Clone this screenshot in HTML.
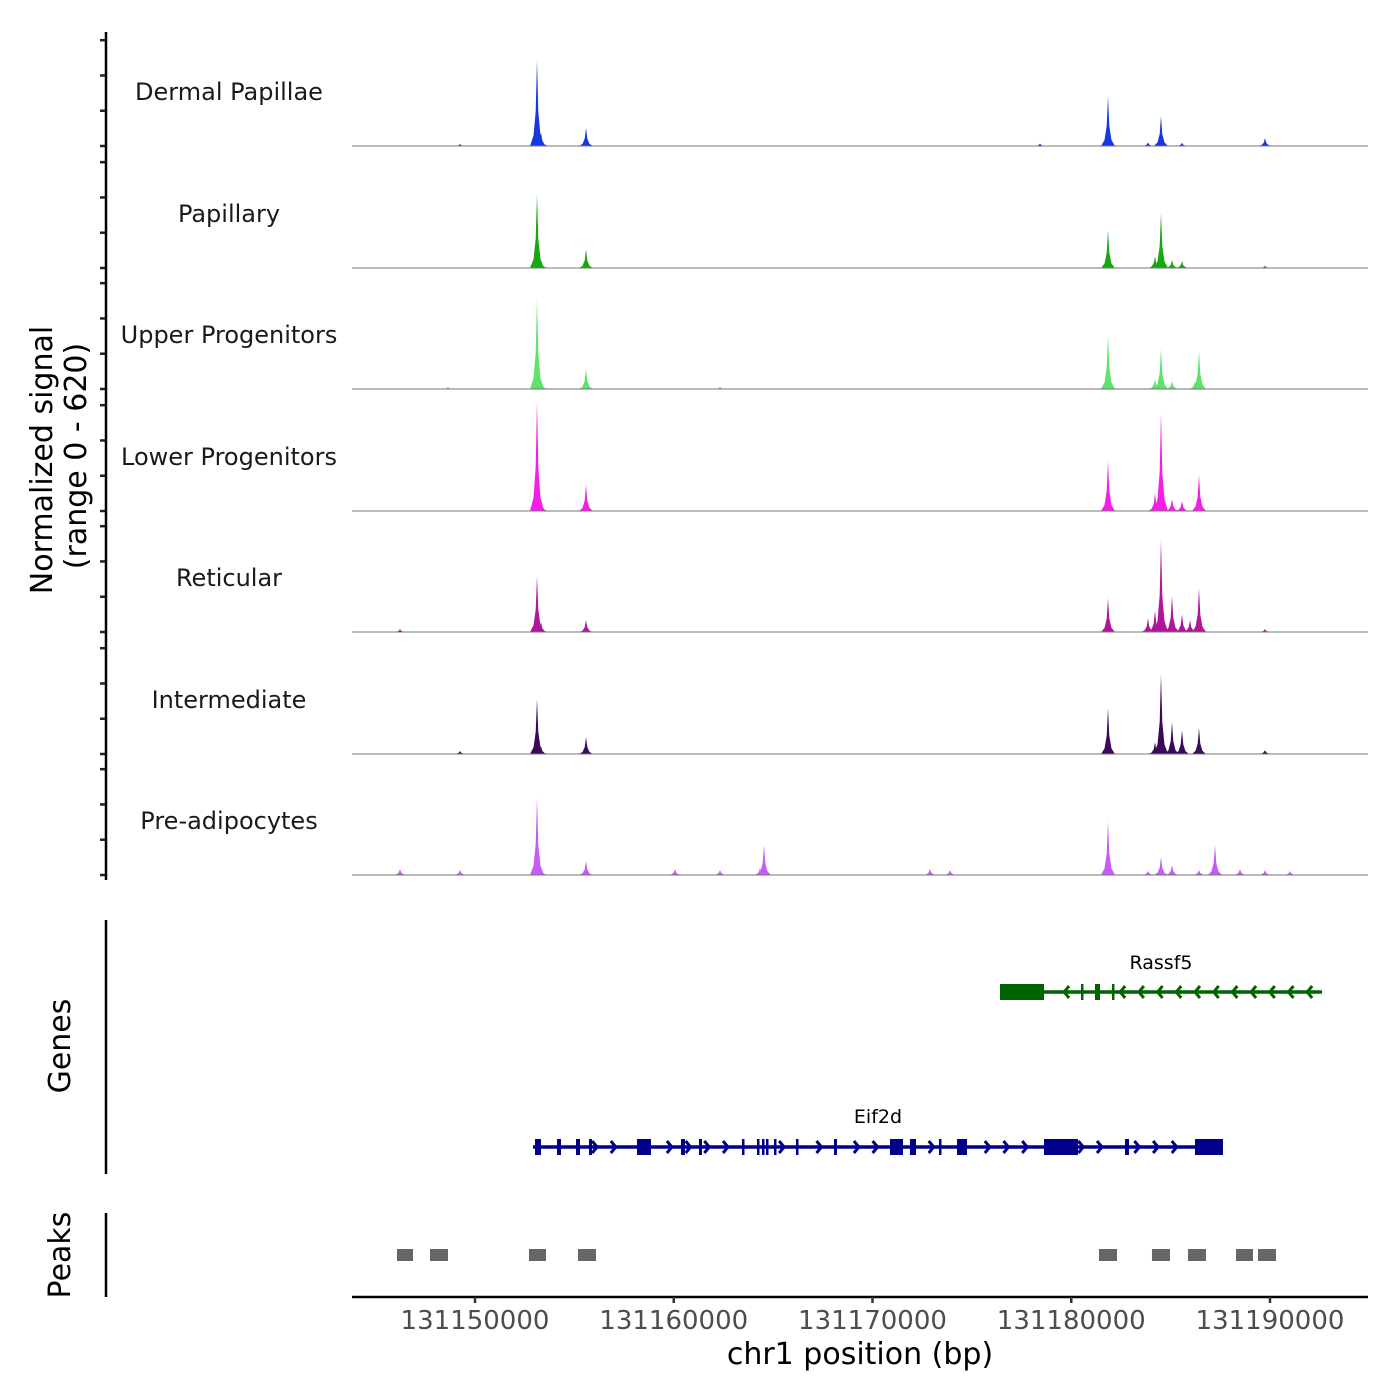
<!DOCTYPE html>
<html><head><meta charset="utf-8"><style>
body{margin:0;background:#fff}
svg{display:block;font-family:"DejaVu Sans","Liberation Sans",sans-serif}
</style></head><body>
<svg id="chart" width="1400" height="1400" viewBox="0 0 1400 1400"></svg>
<script>
// ---- data ----
const regionStart = 131143811, regionEnd = 131194931;
const xTicks = [131150000,131160000,131170000,131180000,131190000];
const trackNames = ["Dermal Papillae","Papillary","Upper Progenitors","Lower Progenitors","Reticular","Intermediate","Pre-adipocytes"];
const trackColors = ["#1538e0","#16a80e","#5de26a","#f51ee6","#b0169c","#3a0a58","#c45cf7"];
const peaksDP  = [[131153119,440],[131153320,70],[131155585,92],[131181849,255],[131184515,153],[131189748,40],[131183861,18],[131185572,16],[131149245,10],[131178427,12]];
const peaksPap = [[131153119,377],[131153320,40],[131155585,97],[131181849,194],[131184515,280],[131184214,60],[131185069,40],[131185572,35],[131189748,12]];
const peaksUp  = [[131153119,459],[131153320,50],[131155585,102],[131181849,275],[131184515,204],[131184214,50],[131185069,40],[131186427,194],[131186226,40],[131162327,12],[131148641,10]];
const peaksLow = [[131153119,561],[131153320,60],[131155585,133],[131181849,255],[131184515,500],[131184214,90],[131185069,60],[131185572,50],[131186427,184]];
const peaksRet = [[131153119,286],[131153320,50],[131155585,61],[131181849,173],[131184515,469],[131183861,70],[131184214,110],[131185069,184],[131185572,90],[131185975,60],[131186427,224],[131146226,15],[131189748,15]];
const peaksInt = [[131153119,280],[131153320,40],[131155585,87],[131181849,235],[131184515,408],[131184214,60],[131185069,163],[131185572,122],[131186427,133],[131189748,20],[131149245,15]];
const peaksPre = [[131153119,393],[131153320,40],[131155585,71],[131164541,153],[131164341,35],[131181849,275],[131184515,92],[131185069,50],[131187232,153],[131186427,25],[131146226,30],[131149245,25],[131160062,30],[131162327,25],[131172892,30],[131173899,25],[131188490,30],[131189748,25],[131191005,20],[131183861,20]];
const trackPeaks = [peaksDP,peaksPap,peaksUp,peaksLow,peaksRet,peaksInt,peaksPre];
const eif2dSpan = [131152918,131187634];
const eif2dExons = [[131153018,131153320],[131154125,131154327],[131155081,131155283],[131155735,131155886],[131158150,131158855],[131160364,131160566],[131161270,131161421],[131163433,131163484],[131164188,131164289],[131164440,131164540],[131164641,131164742],[131165044,131165144],[131166150,131166251],[131168062,131168213],[131170880,131171534],[131171886,131172188],[131173345,131173446],[131174251,131174754],[131178628,131180339],[131182704,131182905],[131186226,131187634]];
const rassf5Span = [131176414,131192616];
const rassf5Exons = [[131176414,131178628],[131180490,131180590],[131181194,131181446],[131182050,131182150]];
const peakRegions = [[131146075,131146880],[131147735,131148641],[131152717,131153572],[131155182,131156088],[131181396,131182301],[131184062,131184968],[131185873,131186779],[131188289,131189144],[131189395,131190301]];
const yMax = 620;

// ---- layout ----
const NS="http://www.w3.org/2000/svg";
const svg=document.getElementById('chart');
const X0=352,X1=1368;
const xs=bp=>X0+(bp-regionStart)/(regionEnd-regionStart)*(X1-X0);
const baselines=[146,268,389,511,632,754,875];
const trackH=121.5;
const ys=(v,b)=>b-v/yMax*trackH;
function el(tag,attrs,parent){const e=document.createElementNS(NS,tag);for(const k in attrs)e.setAttribute(k,attrs[k]);(parent||svg).appendChild(e);return e;}
function txt(s,attrs,parent){const t=el('text',attrs,parent);t.textContent=s;return t;}

trackNames.forEach((name,i)=>{
  const b=baselines[i];
  const g=el('g',{});
  
  
  trackPeaks[i].forEach(([bp,v])=>{
    const x=xs(bp),y=ys(v,b),h=b-y;
    const p=el('polygon',{points:`${x-7},${b} ${x-3.5},${b-h*0.12} ${x-1.3},${b-h*0.4} ${x},${y} ${x+1.3},${b-h*0.4} ${x+3.5},${b-h*0.12} ${x+7},${b}`,fill:trackColors[i]},g);
    
    
  });
  const l=el('line',{x1:X0,x2:X1,y1:b,y2:b,stroke:'#777','stroke-width':1},g);
  
  
  const t=txt(name,{x:229,y:b-46,'text-anchor':'middle','font-size':24,fill:'#1a1a1a'},g);
  
  
  for(let k=0;k<4;k++){
    const ty=ys(k*180,b);
    const tk=el('line',{x1:100,x2:106,y1:ty,y2:ty,stroke:'#222','stroke-width':2.5},g);
    
    
  }
});
el('line',{x1:106,x2:106,y1:32,y2:880,stroke:'#000','stroke-width':2.5,});
txt('Normalized signal',{transform:'translate(52,460) rotate(-90)','text-anchor':'middle','font-size':30,fill:'#000',});
txt('(range 0 - 620)',{transform:'translate(86,456) rotate(-90)','text-anchor':'middle','font-size':30,fill:'#000',});

function drawGene(name,span,exons,y,color,dir,labelY){
  const g=el('g',{});
  
  
  el('line',{x1:xs(span[0]),x2:xs(span[1]),y1:y,y2:y,stroke:color,'stroke-width':3.5},g);
  const ex=exons.map(e=>[xs(e[0]),xs(e[1])]);
  for(let x=xs(span[0])+8;x<xs(span[1])-4;x+=18.7){
    if(ex.some(([a,c])=>x>a-5&&x<c+5))continue;
    const d=dir*5;
    el('polyline',{points:`${x-d},${y-6} ${x},${y} ${x-d},${y+6}`,fill:'none',stroke:color,'stroke-width':3},g);
  }
  ex.forEach(([a,c])=>{
    const r=el('rect',{x:a,y:y-8,width:Math.max(c-a,2.5),height:16,fill:color},g);
    
    
  });
  txt(name,{x:(xs(span[0])+xs(span[1]))/2,y:labelY,'text-anchor':'middle','font-size':19,fill:'#000'},g);
}
drawGene('Rassf5',rassf5Span,rassf5Exons,992,'#006400',-1,969);
drawGene('Eif2d',eif2dSpan,eif2dExons,1147,'#00008b',1,1123);
el('line',{x1:106,x2:106,y1:920,y2:1174,stroke:'#000','stroke-width':2.5,});
txt('Genes',{transform:'translate(70,1046) rotate(-90)','text-anchor':'middle','font-size':30,fill:'#000',});

peakRegions.forEach(([a,c])=>{
  const r=el('rect',{x:xs(a),y:1249,width:xs(c)-xs(a),height:12,fill:'#666'});
  
  
});
el('line',{x1:106,x2:106,y1:1213,y2:1297,stroke:'#000','stroke-width':2.5,});
txt('Peaks',{transform:'translate(70,1255) rotate(-90)','text-anchor':'middle','font-size':30,fill:'#000',});

el('line',{x1:X0,x2:X1,y1:1297,y2:1297,stroke:'#000','stroke-width':2.5,});
xTicks.forEach(v=>{
  const x=xs(v);
  const t=el('line',{x1:x,x2:x,y1:1297,y2:1303,stroke:'#333','stroke-width':2.5});
  
  
  const l=txt(String(v),{x:x,y:1329,'text-anchor':'middle','font-size':26,fill:'#4d4d4d'});
  
  
});
txt('chr1 position (bp)',{x:860,y:1364,'text-anchor':'middle','font-size':30,fill:'#000',});
</script>
</body></html>
